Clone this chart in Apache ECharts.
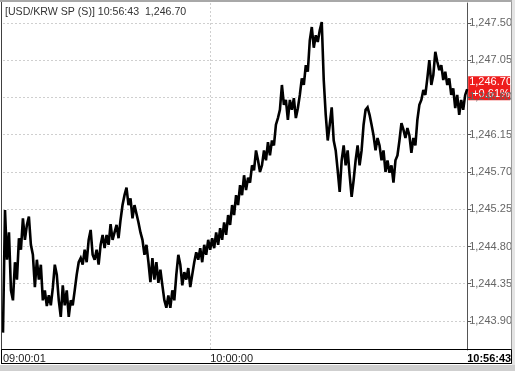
<!DOCTYPE html>
<html><head><meta charset="utf-8">
<script src="https://cdn.jsdelivr.net/npm/echarts@6/dist/echarts.min.js"></script>
<style>html,body{margin:0;padding:0;background:#fff}#c{width:515px;height:371px}</style>
</head><body><div id="c"></div>
<script>
// ---- data ----
const titleText = '[USD/KRW SP (S)] 10:56:43  1,246.70';
const lastPriceText = '1,246.70';
const changeText = '+0.61%';
const xTickIndex = [0, 104, 233];
const xTickLabels = ['09:00:01', '10:00:00', '10:56:43'];
const yTicks = [1243.90, 1244.35, 1244.80, 1245.25, 1245.70, 1246.15, 1246.60, 1247.05, 1247.50];
const prices = [
1243.76,1245.24,1244.64,1244.97,1244.27,1244.15,1244.61,1244.40,1244.90,1244.76,
1245.14,1244.88,1245.06,1245.16,1244.82,1244.70,1244.31,1244.64,1244.40,1244.58,
1244.15,1244.27,1244.08,1244.21,1244.09,1244.30,1244.58,1244.46,1244.15,1243.95,
1244.33,1244.09,1244.27,1243.95,1244.15,1244.09,1244.27,1244.46,1244.61,1244.66,
1244.58,1244.76,1244.61,1244.88,1245.00,1244.70,1244.64,1244.76,1244.58,1244.82,
1244.94,1244.78,1244.94,1244.82,1245.07,1244.88,1244.97,1245.06,1244.90,1245.12,
1245.30,1245.42,1245.51,1245.30,1245.38,1245.14,1245.30,1245.28,1245.09,1244.97,
1244.88,1244.70,1244.82,1244.61,1244.37,1244.66,1244.40,1244.61,1244.36,1244.52,
1244.33,1244.15,1244.06,1244.21,1244.06,1244.27,1244.15,1244.46,1244.70,1244.58,
1244.33,1244.49,1244.40,1244.54,1244.31,1244.46,1244.61,1244.73,1244.64,1244.78,
1244.61,1244.82,1244.70,1244.88,1244.76,1244.90,1244.78,1244.97,1244.82,1245.02,
1244.88,1245.09,1244.94,1245.18,1245.06,1245.30,1245.18,1245.42,1245.30,1245.54,
1245.42,1245.66,1245.48,1245.63,1245.57,1245.78,1245.72,1245.96,1245.84,1245.70,
1245.78,1245.96,1245.84,1246.06,1245.90,1246.08,1246.02,1246.27,1246.35,1246.45,
1246.75,1246.51,1246.57,1246.33,1246.57,1246.45,1246.59,1246.35,1246.47,1246.63,
1246.83,1246.75,1246.99,1246.91,1247.29,1247.45,1247.20,1247.35,1247.27,1247.41,
1247.51,1246.81,1246.39,1246.08,1246.27,1246.48,1246.08,1245.96,1245.72,1245.46,
1245.84,1246.02,1245.78,1245.96,1245.66,1245.40,1245.60,1245.84,1246.02,1245.78,
1245.96,1246.27,1246.45,1246.48,1246.39,1246.27,1246.14,1245.96,1246.11,1246.02,
1245.84,1245.96,1245.70,1245.84,1245.69,1245.78,1245.57,1245.84,1245.90,1246.08,
1246.29,1246.21,1246.11,1246.23,1246.14,1245.93,1246.11,1246.02,1246.33,1246.51,
1246.57,1246.69,1246.63,1246.83,1247.05,1246.75,1246.87,1247.15,1247.03,1246.93,
1246.99,1246.81,1246.91,1246.75,1246.83,1246.63,1246.71,1246.47,1246.63,1246.39,
1246.57,1246.45,1246.63,1246.70
];
// ---------------------------------------

const FONT = '"Liberation Sans", Arial, sans-serif';
const cats = prices.map((_, i) => {
  const k = xTickIndex.indexOf(i);
  return k >= 0 ? xTickLabels[k] : '';
});
const fmt = v => v.toLocaleString('en-US', {minimumFractionDigits: 2, maximumFractionDigits: 2});

const chart = echarts.init(document.getElementById('c'), null, {renderer: 'canvas'});
const option = {
  animation: false,
  backgroundColor: '#ffffff',
  grid: {left: 3, right: 46, top: 3, bottom: 21, containLabel: false},
  title: {
    text: titleText, left: 5, top: 7, padding: 0,
    textStyle: {fontFamily: FONT, fontSize: 10.6, fontWeight: 'normal', color: '#333'}
  },
  xAxis: {
    type: 'category', data: cats, boundaryGap: false,
    axisLine: {show: false}, axisTick: {show: false},
    axisLabel: {
      interval: (i) => xTickIndex.indexOf(i) >= 0,
      showMinLabel: true, showMaxLabel: true,
      align: 'left', margin: 3,
      fontFamily: FONT, fontSize: 11, color: '#222',
      formatter: (v, i) => i === xTickIndex[xTickIndex.length - 1] ? '{b|' + v + '}' : v,
      rich: {b: {fontFamily: FONT, fontSize: 11, fontWeight: 'bold', color: '#000'}}
    },
    splitLine: {show: true, interval: (i) => i === xTickIndex[1],
      lineStyle: {color: '#cfcfcf', type: [2, 2], width: 1}}
  },
  yAxis: {
    type: 'value', position: 'right',
    min: 1243.55, max: 1247.74, scale: true,
    axisLine: {show: true, lineStyle: {color: '#555', width: 1}},
    axisTick: {show: true, length: 4, inside: false, customValues: yTicks, lineStyle: {color: '#555'}},
    axisLabel: {customValues: yTicks, margin: 2, fontFamily: FONT, fontSize: 11, color: '#666',
      formatter: v => fmt(v)},
    splitLine: {show: true, lineStyle: {color: '#cfcfcf', type: [2, 2], width: 1}}
  },
  series: [{
    type: 'line', data: prices, symbol: 'none', smooth: false,
    lineStyle: {color: '#000', width: 2.6, join: 'miter', miterLimit: 3}, z: 3
  }]
};
chart.setOption(option);

const lastPt = chart.convertToPixel({gridIndex: 0}, [prices.length - 1, prices[prices.length - 1]]);
chart.setOption({
  graphic: [
    {type: 'rect', z: 100, shape: {x: 0, y: 0, width: 515, height: 2}, style: {fill: '#a8a8a8'}},
    {type: 'line', z: 100, shape: {x1: 1.5, y1: 2, x2: 1.5, y2: 364}, style: {stroke: '#404040', lineWidth: 1}},
    {type: 'line', z: 100, shape: {x1: 511.5, y1: 2, x2: 511.5, y2: 364}, style: {stroke: '#9a9a9a', lineWidth: 1}},
    {type: 'rect', z: 100, shape: {x: 512, y: 0, width: 3, height: 371}, style: {fill: '#e4e4e4'}},
    {type: 'rect', z: 100, shape: {x: 1.5, y: 349.5, width: 510, height: 14}, style: {fill: null, stroke: '#000', lineWidth: 1}},
    {type: 'rect', z: 100, shape: {x: 0, y: 365, width: 515, height: 6}, style: {fill: '#cfcfcf'}},
    {type: 'group', z: 100, x: lastPt[0] + 1, y: lastPt[1] - 13, children: [
      {type: 'rect', shape: {x: 0, y: 0, width: 42, height: 24}, style: {fill: '#ee1c1c'}},
      {type: 'text', x: 1, y: 6, style: {text: lastPriceText, fill: '#fff', font: '11px ' + FONT, verticalAlign: 'middle'}},
      {type: 'text', x: 4, y: 17.5, style: {text: changeText, fill: '#fff', font: '11px ' + FONT, verticalAlign: 'middle'}}
    ]}
  ]
});
</script>
</body></html>
